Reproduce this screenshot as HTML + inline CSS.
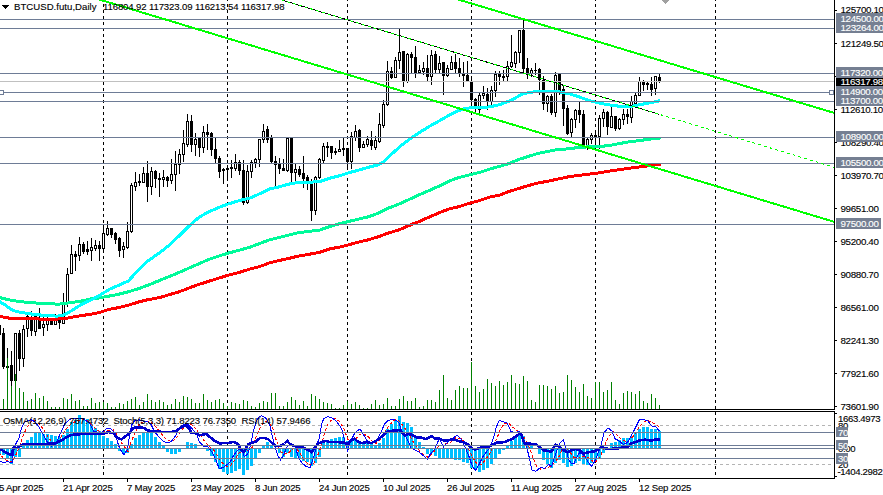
<!DOCTYPE html>
<html><head><meta charset="utf-8"><title>BTCUSD.futu,Daily</title>
<style>html,body{margin:0;padding:0;background:#fff;overflow:hidden}svg{display:block}
text{font-family:"Liberation Sans",sans-serif;white-space:pre}</style></head>
<body><svg width="883" height="495" viewBox="0 0 883 495" shape-rendering="crispEdges">
<rect x="0" y="0" width="883" height="495" fill="#fff"/>
<defs><clipPath id="cm"><rect x="0" y="0" width="834" height="409"/></clipPath><clipPath id="ci"><rect x="0" y="412" width="834" height="66"/></clipPath></defs>
<line x1="103.5" y1="0" x2="103.5" y2="409" stroke="#000" stroke-width="1" stroke-dasharray="3 3" stroke-dashoffset="2"/><line x1="103.5" y1="412" x2="103.5" y2="478" stroke="#000" stroke-width="1" stroke-dasharray="3 3" stroke-dashoffset="0"/><line x1="227.5" y1="0" x2="227.5" y2="409" stroke="#000" stroke-width="1" stroke-dasharray="3 3" stroke-dashoffset="2"/><line x1="227.5" y1="412" x2="227.5" y2="478" stroke="#000" stroke-width="1" stroke-dasharray="3 3" stroke-dashoffset="0"/><line x1="347.5" y1="0" x2="347.5" y2="409" stroke="#000" stroke-width="1" stroke-dasharray="3 3" stroke-dashoffset="2"/><line x1="347.5" y1="412" x2="347.5" y2="478" stroke="#000" stroke-width="1" stroke-dasharray="3 3" stroke-dashoffset="0"/><line x1="471.5" y1="0" x2="471.5" y2="409" stroke="#000" stroke-width="1" stroke-dasharray="3 3" stroke-dashoffset="2"/><line x1="471.5" y1="412" x2="471.5" y2="478" stroke="#000" stroke-width="1" stroke-dasharray="3 3" stroke-dashoffset="0"/><line x1="595.5" y1="0" x2="595.5" y2="409" stroke="#000" stroke-width="1" stroke-dasharray="3 3" stroke-dashoffset="2"/><line x1="595.5" y1="412" x2="595.5" y2="478" stroke="#000" stroke-width="1" stroke-dasharray="3 3" stroke-dashoffset="0"/><line x1="715.5" y1="0" x2="715.5" y2="409" stroke="#000" stroke-width="1" stroke-dasharray="3 3" stroke-dashoffset="2"/><line x1="715.5" y1="412" x2="715.5" y2="478" stroke="#000" stroke-width="1" stroke-dasharray="3 3" stroke-dashoffset="0"/>
<g clip-path="url(#cm)">
<rect x="-1" y="322" width="1" height="16" fill="#000"/><rect x="-2" y="325" width="3" height="10" fill="#000"/><rect x="3" y="328" width="1" height="41" fill="#000"/><rect x="2" y="333" width="3" height="34" fill="#000"/><rect x="7" y="348" width="1" height="25" fill="#000"/><rect x="6" y="366" width="3" height="2" fill="#000"/><rect x="11" y="351" width="1" height="38" fill="#000"/><rect x="10" y="365" width="3" height="16" fill="#000"/><rect x="15" y="333" width="1" height="49" fill="#000"/><rect x="14" y="333" width="3" height="48" fill="#000"/><rect x="15" y="334" width="1" height="46" fill="#fff"/><rect x="19" y="330" width="1" height="41" fill="#000"/><rect x="18" y="333" width="3" height="26" fill="#000"/><rect x="23" y="325" width="1" height="42" fill="#000"/><rect x="22" y="329" width="3" height="30" fill="#000"/><rect x="23" y="330" width="1" height="28" fill="#fff"/><rect x="27" y="315" width="1" height="22" fill="#000"/><rect x="26" y="316" width="3" height="13" fill="#000"/><rect x="27" y="317" width="1" height="11" fill="#fff"/><rect x="31" y="311" width="1" height="25" fill="#000"/><rect x="30" y="317" width="3" height="14" fill="#000"/><rect x="35" y="316" width="1" height="20" fill="#000"/><rect x="34" y="316" width="3" height="16" fill="#000"/><rect x="35" y="317" width="1" height="14" fill="#fff"/><rect x="39" y="308" width="1" height="21" fill="#000"/><rect x="38" y="320" width="3" height="9" fill="#000"/><rect x="43" y="317" width="1" height="19" fill="#000"/><rect x="42" y="324" width="3" height="4" fill="#000"/><rect x="43" y="325" width="1" height="2" fill="#fff"/><rect x="47" y="317" width="1" height="14" fill="#000"/><rect x="46" y="320" width="3" height="5" fill="#000"/><rect x="47" y="321" width="1" height="3" fill="#fff"/><rect x="51" y="318" width="1" height="7" fill="#000"/><rect x="50" y="320" width="3" height="5" fill="#000"/><rect x="55" y="314" width="1" height="11" fill="#000"/><rect x="54" y="320" width="3" height="5" fill="#000"/><rect x="55" y="321" width="1" height="3" fill="#fff"/><rect x="59" y="320" width="1" height="9" fill="#000"/><rect x="58" y="320" width="3" height="3" fill="#000"/><rect x="63" y="293" width="1" height="31" fill="#000"/><rect x="62" y="302" width="3" height="22" fill="#000"/><rect x="63" y="303" width="1" height="20" fill="#fff"/><rect x="67" y="268" width="1" height="39" fill="#000"/><rect x="66" y="274" width="3" height="29" fill="#000"/><rect x="67" y="275" width="1" height="27" fill="#fff"/><rect x="71" y="245" width="1" height="29" fill="#000"/><rect x="70" y="254" width="3" height="20" fill="#000"/><rect x="71" y="255" width="1" height="18" fill="#fff"/><rect x="75" y="251" width="1" height="20" fill="#000"/><rect x="74" y="254" width="3" height="3" fill="#000"/><rect x="79" y="237" width="1" height="24" fill="#000"/><rect x="78" y="244" width="3" height="12" fill="#000"/><rect x="79" y="245" width="1" height="10" fill="#fff"/><rect x="83" y="242" width="1" height="12" fill="#000"/><rect x="82" y="244" width="3" height="8" fill="#000"/><rect x="87" y="241" width="1" height="14" fill="#000"/><rect x="86" y="249" width="3" height="3" fill="#000"/><rect x="91" y="238" width="1" height="23" fill="#000"/><rect x="90" y="247" width="3" height="4" fill="#000"/><rect x="91" y="248" width="1" height="2" fill="#fff"/><rect x="95" y="240" width="1" height="11" fill="#000"/><rect x="94" y="245" width="3" height="4" fill="#000"/><rect x="95" y="246" width="1" height="2" fill="#fff"/><rect x="99" y="241" width="1" height="20" fill="#000"/><rect x="98" y="245" width="3" height="4" fill="#000"/><rect x="103" y="225" width="1" height="28" fill="#000"/><rect x="102" y="233" width="3" height="16" fill="#000"/><rect x="103" y="234" width="1" height="14" fill="#fff"/><rect x="107" y="221" width="1" height="15" fill="#000"/><rect x="106" y="228" width="3" height="7" fill="#000"/><rect x="107" y="229" width="1" height="5" fill="#fff"/><rect x="111" y="228" width="1" height="10" fill="#000"/><rect x="110" y="228" width="3" height="7" fill="#000"/><rect x="115" y="232" width="1" height="12" fill="#000"/><rect x="114" y="233" width="3" height="7" fill="#000"/><rect x="119" y="237" width="1" height="20" fill="#000"/><rect x="118" y="238" width="3" height="13" fill="#000"/><rect x="123" y="242" width="1" height="16" fill="#000"/><rect x="122" y="246" width="3" height="4" fill="#000"/><rect x="123" y="247" width="1" height="2" fill="#fff"/><rect x="127" y="222" width="1" height="27" fill="#000"/><rect x="126" y="231" width="3" height="17" fill="#000"/><rect x="127" y="232" width="1" height="15" fill="#fff"/><rect x="131" y="183" width="1" height="50" fill="#000"/><rect x="130" y="185" width="3" height="47" fill="#000"/><rect x="131" y="186" width="1" height="45" fill="#fff"/><rect x="135" y="172" width="1" height="19" fill="#000"/><rect x="134" y="182" width="3" height="5" fill="#000"/><rect x="135" y="183" width="1" height="3" fill="#fff"/><rect x="139" y="174" width="1" height="12" fill="#000"/><rect x="138" y="181" width="3" height="2" fill="#000"/><rect x="143" y="167" width="1" height="16" fill="#000"/><rect x="142" y="173" width="3" height="10" fill="#000"/><rect x="143" y="174" width="1" height="8" fill="#fff"/><rect x="147" y="161" width="1" height="41" fill="#000"/><rect x="146" y="173" width="3" height="14" fill="#000"/><rect x="151" y="167" width="1" height="28" fill="#000"/><rect x="150" y="171" width="3" height="16" fill="#000"/><rect x="151" y="172" width="1" height="14" fill="#fff"/><rect x="155" y="170" width="1" height="18" fill="#000"/><rect x="154" y="171" width="3" height="8" fill="#000"/><rect x="159" y="173" width="1" height="24" fill="#000"/><rect x="158" y="178" width="3" height="2" fill="#000"/><rect x="163" y="170" width="1" height="17" fill="#000"/><rect x="162" y="177" width="3" height="3" fill="#000"/><rect x="163" y="178" width="1" height="1" fill="#fff"/><rect x="167" y="176" width="1" height="11" fill="#000"/><rect x="166" y="177" width="3" height="4" fill="#000"/><rect x="171" y="159" width="1" height="25" fill="#000"/><rect x="170" y="174" width="3" height="7" fill="#000"/><rect x="171" y="175" width="1" height="5" fill="#fff"/><rect x="175" y="151" width="1" height="40" fill="#000"/><rect x="174" y="164" width="3" height="11" fill="#000"/><rect x="175" y="165" width="1" height="9" fill="#fff"/><rect x="179" y="149" width="1" height="25" fill="#000"/><rect x="178" y="154" width="3" height="11" fill="#000"/><rect x="179" y="155" width="1" height="9" fill="#fff"/><rect x="183" y="130" width="1" height="32" fill="#000"/><rect x="182" y="143" width="3" height="12" fill="#000"/><rect x="183" y="144" width="1" height="10" fill="#fff"/><rect x="187" y="114" width="1" height="33" fill="#000"/><rect x="186" y="121" width="3" height="24" fill="#000"/><rect x="187" y="122" width="1" height="22" fill="#fff"/><rect x="191" y="115" width="1" height="37" fill="#000"/><rect x="190" y="121" width="3" height="24" fill="#000"/><rect x="195" y="133" width="1" height="23" fill="#000"/><rect x="194" y="139" width="3" height="6" fill="#000"/><rect x="195" y="140" width="1" height="4" fill="#fff"/><rect x="199" y="138" width="1" height="19" fill="#000"/><rect x="198" y="138" width="3" height="10" fill="#000"/><rect x="203" y="126" width="1" height="27" fill="#000"/><rect x="202" y="132" width="3" height="16" fill="#000"/><rect x="203" y="133" width="1" height="14" fill="#fff"/><rect x="207" y="124" width="1" height="26" fill="#000"/><rect x="206" y="132" width="3" height="3" fill="#000"/><rect x="211" y="132" width="1" height="24" fill="#000"/><rect x="210" y="133" width="3" height="17" fill="#000"/><rect x="215" y="138" width="1" height="25" fill="#000"/><rect x="214" y="149" width="3" height="10" fill="#000"/><rect x="219" y="156" width="1" height="22" fill="#000"/><rect x="218" y="158" width="3" height="14" fill="#000"/><rect x="223" y="168" width="1" height="16" fill="#000"/><rect x="222" y="169" width="3" height="2" fill="#000"/><rect x="227" y="165" width="1" height="16" fill="#000"/><rect x="226" y="168" width="3" height="2" fill="#000"/><rect x="231" y="160" width="1" height="18" fill="#000"/><rect x="230" y="167" width="3" height="2" fill="#000"/><rect x="235" y="154" width="1" height="17" fill="#000"/><rect x="234" y="162" width="3" height="7" fill="#000"/><rect x="235" y="163" width="1" height="5" fill="#fff"/><rect x="239" y="160" width="1" height="15" fill="#000"/><rect x="238" y="162" width="3" height="9" fill="#000"/><rect x="243" y="160" width="1" height="45" fill="#000"/><rect x="242" y="170" width="3" height="33" fill="#000"/><rect x="247" y="165" width="1" height="39" fill="#000"/><rect x="246" y="171" width="3" height="32" fill="#000"/><rect x="247" y="172" width="1" height="30" fill="#fff"/><rect x="251" y="160" width="1" height="18" fill="#000"/><rect x="250" y="162" width="3" height="10" fill="#000"/><rect x="251" y="163" width="1" height="8" fill="#fff"/><rect x="255" y="158" width="1" height="10" fill="#000"/><rect x="254" y="159" width="3" height="4" fill="#000"/><rect x="255" y="160" width="1" height="2" fill="#fff"/><rect x="259" y="139" width="1" height="28" fill="#000"/><rect x="258" y="139" width="3" height="21" fill="#000"/><rect x="259" y="140" width="1" height="19" fill="#fff"/><rect x="263" y="124" width="1" height="19" fill="#000"/><rect x="262" y="131" width="3" height="9" fill="#000"/><rect x="263" y="132" width="1" height="7" fill="#fff"/><rect x="267" y="126" width="1" height="17" fill="#000"/><rect x="266" y="129" width="3" height="11" fill="#000"/><rect x="271" y="135" width="1" height="28" fill="#000"/><rect x="270" y="138" width="3" height="24" fill="#000"/><rect x="275" y="156" width="1" height="31" fill="#000"/><rect x="274" y="161" width="3" height="4" fill="#000"/><rect x="279" y="158" width="1" height="16" fill="#000"/><rect x="278" y="164" width="3" height="5" fill="#000"/><rect x="283" y="159" width="1" height="12" fill="#000"/><rect x="282" y="168" width="3" height="3" fill="#000"/><rect x="287" y="138" width="1" height="34" fill="#000"/><rect x="286" y="138" width="3" height="33" fill="#000"/><rect x="287" y="139" width="1" height="31" fill="#fff"/><rect x="291" y="138" width="1" height="44" fill="#000"/><rect x="290" y="138" width="3" height="35" fill="#000"/><rect x="295" y="164" width="1" height="17" fill="#000"/><rect x="294" y="169" width="3" height="4" fill="#000"/><rect x="295" y="170" width="1" height="2" fill="#fff"/><rect x="299" y="166" width="1" height="11" fill="#000"/><rect x="298" y="169" width="3" height="6" fill="#000"/><rect x="303" y="156" width="1" height="32" fill="#000"/><rect x="302" y="173" width="3" height="6" fill="#000"/><rect x="307" y="175" width="1" height="15" fill="#000"/><rect x="306" y="177" width="3" height="5" fill="#000"/><rect x="311" y="179" width="1" height="42" fill="#000"/><rect x="310" y="182" width="3" height="29" fill="#000"/><rect x="315" y="176" width="1" height="39" fill="#000"/><rect x="314" y="177" width="3" height="34" fill="#000"/><rect x="315" y="178" width="1" height="32" fill="#fff"/><rect x="319" y="158" width="1" height="21" fill="#000"/><rect x="318" y="159" width="3" height="19" fill="#000"/><rect x="319" y="160" width="1" height="17" fill="#fff"/><rect x="323" y="143" width="1" height="21" fill="#000"/><rect x="322" y="146" width="3" height="15" fill="#000"/><rect x="323" y="147" width="1" height="13" fill="#fff"/><rect x="327" y="142" width="1" height="15" fill="#000"/><rect x="326" y="146" width="3" height="2" fill="#000"/><rect x="331" y="146" width="1" height="13" fill="#000"/><rect x="330" y="146" width="3" height="7" fill="#000"/><rect x="335" y="148" width="1" height="7" fill="#000"/><rect x="334" y="151" width="3" height="2" fill="#000"/><rect x="339" y="140" width="1" height="12" fill="#000"/><rect x="338" y="149" width="3" height="3" fill="#000"/><rect x="339" y="150" width="1" height="1" fill="#fff"/><rect x="343" y="138" width="1" height="18" fill="#000"/><rect x="342" y="148" width="3" height="2" fill="#000"/><rect x="347" y="148" width="1" height="22" fill="#000"/><rect x="346" y="148" width="3" height="14" fill="#000"/><rect x="351" y="132" width="1" height="37" fill="#000"/><rect x="350" y="136" width="3" height="26" fill="#000"/><rect x="351" y="137" width="1" height="24" fill="#fff"/><rect x="355" y="125" width="1" height="16" fill="#000"/><rect x="354" y="131" width="3" height="7" fill="#000"/><rect x="355" y="132" width="1" height="5" fill="#fff"/><rect x="359" y="129" width="1" height="23" fill="#000"/><rect x="358" y="130" width="3" height="18" fill="#000"/><rect x="363" y="141" width="1" height="7" fill="#000"/><rect x="362" y="144" width="3" height="4" fill="#000"/><rect x="363" y="145" width="1" height="2" fill="#fff"/><rect x="367" y="136" width="1" height="11" fill="#000"/><rect x="366" y="139" width="3" height="6" fill="#000"/><rect x="367" y="140" width="1" height="4" fill="#fff"/><rect x="371" y="131" width="1" height="19" fill="#000"/><rect x="370" y="140" width="3" height="6" fill="#000"/><rect x="375" y="136" width="1" height="14" fill="#000"/><rect x="374" y="140" width="3" height="8" fill="#000"/><rect x="375" y="141" width="1" height="6" fill="#fff"/><rect x="379" y="113" width="1" height="30" fill="#000"/><rect x="378" y="124" width="3" height="18" fill="#000"/><rect x="379" y="125" width="1" height="16" fill="#fff"/><rect x="383" y="100" width="1" height="28" fill="#000"/><rect x="382" y="104" width="3" height="22" fill="#000"/><rect x="383" y="105" width="1" height="20" fill="#fff"/><rect x="387" y="61" width="1" height="45" fill="#000"/><rect x="386" y="71" width="3" height="34" fill="#000"/><rect x="387" y="72" width="1" height="32" fill="#fff"/><rect x="391" y="67" width="1" height="12" fill="#000"/><rect x="390" y="71" width="3" height="7" fill="#000"/><rect x="395" y="57" width="1" height="21" fill="#000"/><rect x="394" y="60" width="3" height="18" fill="#000"/><rect x="395" y="61" width="1" height="16" fill="#fff"/><rect x="399" y="29" width="1" height="40" fill="#000"/><rect x="398" y="52" width="3" height="9" fill="#000"/><rect x="399" y="53" width="1" height="7" fill="#fff"/><rect x="403" y="51" width="1" height="36" fill="#000"/><rect x="402" y="51" width="3" height="31" fill="#000"/><rect x="407" y="53" width="1" height="30" fill="#000"/><rect x="406" y="54" width="3" height="28" fill="#000"/><rect x="407" y="55" width="1" height="26" fill="#fff"/><rect x="411" y="52" width="1" height="22" fill="#000"/><rect x="410" y="54" width="3" height="4" fill="#000"/><rect x="415" y="46" width="1" height="32" fill="#000"/><rect x="414" y="57" width="3" height="17" fill="#000"/><rect x="419" y="65" width="1" height="8" fill="#000"/><rect x="418" y="70" width="3" height="3" fill="#000"/><rect x="419" y="71" width="1" height="1" fill="#fff"/><rect x="423" y="62" width="1" height="13" fill="#000"/><rect x="422" y="68" width="3" height="4" fill="#000"/><rect x="423" y="69" width="1" height="2" fill="#fff"/><rect x="427" y="55" width="1" height="26" fill="#000"/><rect x="426" y="68" width="3" height="9" fill="#000"/><rect x="431" y="50" width="1" height="35" fill="#000"/><rect x="430" y="55" width="3" height="22" fill="#000"/><rect x="431" y="56" width="1" height="20" fill="#fff"/><rect x="435" y="51" width="1" height="22" fill="#000"/><rect x="434" y="54" width="3" height="16" fill="#000"/><rect x="439" y="56" width="1" height="17" fill="#000"/><rect x="438" y="63" width="3" height="7" fill="#000"/><rect x="439" y="64" width="1" height="5" fill="#fff"/><rect x="443" y="62" width="1" height="33" fill="#000"/><rect x="442" y="62" width="3" height="14" fill="#000"/><rect x="447" y="65" width="1" height="12" fill="#000"/><rect x="446" y="68" width="3" height="8" fill="#000"/><rect x="447" y="69" width="1" height="6" fill="#fff"/><rect x="451" y="56" width="1" height="14" fill="#000"/><rect x="450" y="62" width="3" height="8" fill="#000"/><rect x="451" y="63" width="1" height="6" fill="#fff"/><rect x="455" y="54" width="1" height="19" fill="#000"/><rect x="454" y="62" width="3" height="7" fill="#000"/><rect x="459" y="58" width="1" height="19" fill="#000"/><rect x="458" y="68" width="3" height="6" fill="#000"/><rect x="463" y="62" width="1" height="25" fill="#000"/><rect x="462" y="73" width="3" height="3" fill="#000"/><rect x="467" y="61" width="1" height="21" fill="#000"/><rect x="466" y="75" width="3" height="7" fill="#000"/><rect x="471" y="76" width="1" height="33" fill="#000"/><rect x="470" y="81" width="3" height="19" fill="#000"/><rect x="475" y="98" width="1" height="15" fill="#000"/><rect x="474" y="99" width="3" height="10" fill="#000"/><rect x="479" y="93" width="1" height="21" fill="#000"/><rect x="478" y="95" width="3" height="15" fill="#000"/><rect x="479" y="96" width="1" height="13" fill="#fff"/><rect x="483" y="86" width="1" height="13" fill="#000"/><rect x="482" y="93" width="3" height="3" fill="#000"/><rect x="483" y="94" width="1" height="1" fill="#fff"/><rect x="487" y="88" width="1" height="22" fill="#000"/><rect x="486" y="94" width="3" height="8" fill="#000"/><rect x="491" y="86" width="1" height="20" fill="#000"/><rect x="490" y="90" width="3" height="12" fill="#000"/><rect x="491" y="91" width="1" height="10" fill="#fff"/><rect x="495" y="71" width="1" height="26" fill="#000"/><rect x="494" y="74" width="3" height="17" fill="#000"/><rect x="495" y="75" width="1" height="15" fill="#fff"/><rect x="499" y="71" width="1" height="14" fill="#000"/><rect x="498" y="74" width="3" height="3" fill="#000"/><rect x="503" y="70" width="1" height="12" fill="#000"/><rect x="502" y="76" width="3" height="2" fill="#000"/><rect x="507" y="61" width="1" height="21" fill="#000"/><rect x="506" y="66" width="3" height="11" fill="#000"/><rect x="507" y="67" width="1" height="9" fill="#fff"/><rect x="511" y="35" width="1" height="33" fill="#000"/><rect x="510" y="62" width="3" height="5" fill="#000"/><rect x="511" y="63" width="1" height="3" fill="#fff"/><rect x="515" y="51" width="1" height="17" fill="#000"/><rect x="514" y="52" width="3" height="12" fill="#000"/><rect x="515" y="53" width="1" height="10" fill="#fff"/><rect x="519" y="30" width="1" height="33" fill="#000"/><rect x="518" y="30" width="3" height="23" fill="#000"/><rect x="519" y="31" width="1" height="21" fill="#fff"/><rect x="523" y="19" width="1" height="55" fill="#000"/><rect x="522" y="30" width="3" height="39" fill="#000"/><rect x="527" y="58" width="1" height="21" fill="#000"/><rect x="526" y="68" width="3" height="6" fill="#000"/><rect x="531" y="68" width="1" height="9" fill="#000"/><rect x="530" y="70" width="3" height="4" fill="#000"/><rect x="531" y="71" width="1" height="2" fill="#fff"/><rect x="535" y="63" width="1" height="12" fill="#000"/><rect x="534" y="70" width="3" height="1" fill="#000"/><rect x="539" y="68" width="1" height="27" fill="#000"/><rect x="538" y="69" width="3" height="11" fill="#000"/><rect x="543" y="76" width="1" height="34" fill="#000"/><rect x="542" y="80" width="3" height="24" fill="#000"/><rect x="547" y="95" width="1" height="17" fill="#000"/><rect x="546" y="96" width="3" height="8" fill="#000"/><rect x="547" y="97" width="1" height="6" fill="#fff"/><rect x="551" y="94" width="1" height="21" fill="#000"/><rect x="550" y="96" width="3" height="17" fill="#000"/><rect x="555" y="72" width="1" height="45" fill="#000"/><rect x="554" y="75" width="3" height="38" fill="#000"/><rect x="555" y="76" width="1" height="36" fill="#fff"/><rect x="559" y="74" width="1" height="21" fill="#000"/><rect x="558" y="74" width="3" height="17" fill="#000"/><rect x="563" y="86" width="1" height="40" fill="#000"/><rect x="562" y="89" width="3" height="20" fill="#000"/><rect x="567" y="105" width="1" height="30" fill="#000"/><rect x="566" y="108" width="3" height="26" fill="#000"/><rect x="571" y="118" width="1" height="20" fill="#000"/><rect x="570" y="119" width="3" height="14" fill="#000"/><rect x="571" y="120" width="1" height="12" fill="#fff"/><rect x="575" y="109" width="1" height="19" fill="#000"/><rect x="574" y="110" width="3" height="10" fill="#000"/><rect x="575" y="111" width="1" height="8" fill="#fff"/><rect x="579" y="102" width="1" height="21" fill="#000"/><rect x="578" y="110" width="3" height="5" fill="#000"/><rect x="583" y="110" width="1" height="36" fill="#000"/><rect x="582" y="114" width="3" height="32" fill="#000"/><rect x="587" y="138" width="1" height="12" fill="#000"/><rect x="586" y="139" width="3" height="8" fill="#000"/><rect x="587" y="140" width="1" height="6" fill="#fff"/><rect x="591" y="133" width="1" height="11" fill="#000"/><rect x="590" y="135" width="3" height="5" fill="#000"/><rect x="591" y="136" width="1" height="3" fill="#fff"/><rect x="595" y="131" width="1" height="16" fill="#000"/><rect x="594" y="135" width="3" height="2" fill="#000"/><rect x="599" y="115" width="1" height="34" fill="#000"/><rect x="598" y="118" width="3" height="19" fill="#000"/><rect x="599" y="119" width="1" height="17" fill="#fff"/><rect x="603" y="109" width="1" height="18" fill="#000"/><rect x="602" y="112" width="3" height="7" fill="#000"/><rect x="603" y="113" width="1" height="5" fill="#fff"/><rect x="607" y="111" width="1" height="24" fill="#000"/><rect x="606" y="112" width="3" height="15" fill="#000"/><rect x="611" y="107" width="1" height="21" fill="#000"/><rect x="610" y="116" width="3" height="12" fill="#000"/><rect x="611" y="117" width="1" height="10" fill="#fff"/><rect x="615" y="116" width="1" height="15" fill="#000"/><rect x="614" y="116" width="3" height="13" fill="#000"/><rect x="619" y="118" width="1" height="12" fill="#000"/><rect x="618" y="119" width="3" height="10" fill="#000"/><rect x="619" y="120" width="1" height="8" fill="#fff"/><rect x="623" y="109" width="1" height="16" fill="#000"/><rect x="622" y="114" width="3" height="6" fill="#000"/><rect x="623" y="115" width="1" height="4" fill="#fff"/><rect x="627" y="109" width="1" height="15" fill="#000"/><rect x="626" y="114" width="3" height="3" fill="#000"/><rect x="631" y="96" width="1" height="27" fill="#000"/><rect x="630" y="101" width="3" height="17" fill="#000"/><rect x="631" y="102" width="1" height="15" fill="#fff"/><rect x="635" y="93" width="1" height="12" fill="#000"/><rect x="634" y="95" width="3" height="9" fill="#000"/><rect x="635" y="96" width="1" height="7" fill="#fff"/><rect x="639" y="77" width="1" height="19" fill="#000"/><rect x="638" y="81" width="3" height="15" fill="#000"/><rect x="639" y="82" width="1" height="13" fill="#fff"/><rect x="643" y="80" width="1" height="11" fill="#000"/><rect x="642" y="81" width="3" height="4" fill="#000"/><rect x="647" y="82" width="1" height="8" fill="#000"/><rect x="646" y="83" width="3" height="2" fill="#000"/><rect x="651" y="77" width="1" height="19" fill="#000"/><rect x="650" y="84" width="3" height="6" fill="#000"/><rect x="655" y="76" width="1" height="19" fill="#000"/><rect x="654" y="76" width="3" height="13" fill="#000"/><rect x="655" y="77" width="1" height="11" fill="#fff"/><rect x="659" y="74" width="1" height="9" fill="#000"/><rect x="658" y="77" width="3" height="5" fill="#000"/>
<rect x="3" y="399" width="1" height="10" fill="#008000"/><rect x="7" y="358" width="1" height="51" fill="#008000"/><rect x="11" y="386" width="1" height="23" fill="#008000"/><rect x="15" y="374" width="1" height="35" fill="#008000"/><rect x="19" y="388" width="1" height="21" fill="#008000"/><rect x="23" y="392" width="1" height="17" fill="#008000"/><rect x="27" y="401" width="1" height="8" fill="#008000"/><rect x="31" y="399" width="1" height="10" fill="#008000"/><rect x="35" y="393" width="1" height="16" fill="#008000"/><rect x="39" y="398" width="1" height="11" fill="#008000"/><rect x="43" y="396" width="1" height="13" fill="#008000"/><rect x="47" y="401" width="1" height="8" fill="#008000"/><rect x="51" y="407" width="1" height="2" fill="#008000"/><rect x="55" y="407" width="1" height="2" fill="#008000"/><rect x="59" y="407" width="1" height="2" fill="#008000"/><rect x="63" y="398" width="1" height="11" fill="#008000"/><rect x="67" y="399" width="1" height="10" fill="#008000"/><rect x="71" y="394" width="1" height="15" fill="#008000"/><rect x="75" y="401" width="1" height="8" fill="#008000"/><rect x="79" y="400" width="1" height="9" fill="#008000"/><rect x="83" y="406" width="1" height="3" fill="#008000"/><rect x="87" y="406" width="1" height="3" fill="#008000"/><rect x="91" y="398" width="1" height="11" fill="#008000"/><rect x="95" y="403" width="1" height="6" fill="#008000"/><rect x="99" y="402" width="1" height="7" fill="#008000"/><rect x="103" y="402" width="1" height="7" fill="#008000"/><rect x="107" y="403" width="1" height="6" fill="#008000"/><rect x="111" y="407" width="1" height="2" fill="#008000"/><rect x="115" y="407" width="1" height="2" fill="#008000"/><rect x="119" y="403" width="1" height="6" fill="#008000"/><rect x="123" y="404" width="1" height="5" fill="#008000"/><rect x="127" y="401" width="1" height="8" fill="#008000"/><rect x="131" y="399" width="1" height="10" fill="#008000"/><rect x="135" y="397" width="1" height="12" fill="#008000"/><rect x="139" y="405" width="1" height="4" fill="#008000"/><rect x="143" y="402" width="1" height="7" fill="#008000"/><rect x="147" y="394" width="1" height="15" fill="#008000"/><rect x="151" y="400" width="1" height="9" fill="#008000"/><rect x="155" y="402" width="1" height="7" fill="#008000"/><rect x="159" y="400" width="1" height="9" fill="#008000"/><rect x="163" y="402" width="1" height="7" fill="#008000"/><rect x="167" y="405" width="1" height="4" fill="#008000"/><rect x="171" y="404" width="1" height="5" fill="#008000"/><rect x="175" y="399" width="1" height="10" fill="#008000"/><rect x="179" y="402" width="1" height="7" fill="#008000"/><rect x="183" y="396" width="1" height="13" fill="#008000"/><rect x="187" y="397" width="1" height="12" fill="#008000"/><rect x="191" y="399" width="1" height="10" fill="#008000"/><rect x="195" y="403" width="1" height="6" fill="#008000"/><rect x="199" y="403" width="1" height="6" fill="#008000"/><rect x="203" y="394" width="1" height="15" fill="#008000"/><rect x="207" y="400" width="1" height="9" fill="#008000"/><rect x="211" y="402" width="1" height="7" fill="#008000"/><rect x="215" y="400" width="1" height="9" fill="#008000"/><rect x="219" y="399" width="1" height="10" fill="#008000"/><rect x="223" y="403" width="1" height="6" fill="#008000"/><rect x="227" y="406" width="1" height="3" fill="#008000"/><rect x="231" y="402" width="1" height="7" fill="#008000"/><rect x="235" y="403" width="1" height="6" fill="#008000"/><rect x="239" y="404" width="1" height="5" fill="#008000"/><rect x="243" y="400" width="1" height="9" fill="#008000"/><rect x="247" y="401" width="1" height="8" fill="#008000"/><rect x="251" y="406" width="1" height="3" fill="#008000"/><rect x="255" y="407" width="1" height="2" fill="#008000"/><rect x="259" y="403" width="1" height="6" fill="#008000"/><rect x="263" y="401" width="1" height="8" fill="#008000"/><rect x="267" y="402" width="1" height="7" fill="#008000"/><rect x="271" y="393" width="1" height="16" fill="#008000"/><rect x="275" y="393" width="1" height="16" fill="#008000"/><rect x="279" y="406" width="1" height="3" fill="#008000"/><rect x="283" y="406" width="1" height="3" fill="#008000"/><rect x="287" y="402" width="1" height="7" fill="#008000"/><rect x="291" y="397" width="1" height="12" fill="#008000"/><rect x="295" y="400" width="1" height="9" fill="#008000"/><rect x="299" y="405" width="1" height="4" fill="#008000"/><rect x="303" y="401" width="1" height="8" fill="#008000"/><rect x="307" y="406" width="1" height="3" fill="#008000"/><rect x="311" y="394" width="1" height="15" fill="#008000"/><rect x="315" y="396" width="1" height="13" fill="#008000"/><rect x="319" y="399" width="1" height="10" fill="#008000"/><rect x="323" y="402" width="1" height="7" fill="#008000"/><rect x="327" y="403" width="1" height="6" fill="#008000"/><rect x="331" y="404" width="1" height="5" fill="#008000"/><rect x="335" y="408" width="1" height="1" fill="#008000"/><rect x="339" y="408" width="1" height="1" fill="#008000"/><rect x="343" y="405" width="1" height="4" fill="#008000"/><rect x="347" y="401" width="1" height="8" fill="#008000"/><rect x="351" y="404" width="1" height="5" fill="#008000"/><rect x="355" y="402" width="1" height="7" fill="#008000"/><rect x="359" y="405" width="1" height="4" fill="#008000"/><rect x="363" y="408" width="1" height="1" fill="#008000"/><rect x="367" y="408" width="1" height="1" fill="#008000"/><rect x="371" y="404" width="1" height="5" fill="#008000"/><rect x="375" y="400" width="1" height="9" fill="#008000"/><rect x="379" y="405" width="1" height="4" fill="#008000"/><rect x="383" y="404" width="1" height="5" fill="#008000"/><rect x="387" y="398" width="1" height="11" fill="#008000"/><rect x="391" y="406" width="1" height="3" fill="#008000"/><rect x="395" y="406" width="1" height="3" fill="#008000"/><rect x="399" y="399" width="1" height="10" fill="#008000"/><rect x="403" y="396" width="1" height="13" fill="#008000"/><rect x="407" y="401" width="1" height="8" fill="#008000"/><rect x="411" y="401" width="1" height="8" fill="#008000"/><rect x="415" y="398" width="1" height="11" fill="#008000"/><rect x="419" y="407" width="1" height="2" fill="#008000"/><rect x="423" y="406" width="1" height="3" fill="#008000"/><rect x="427" y="400" width="1" height="9" fill="#008000"/><rect x="431" y="400" width="1" height="9" fill="#008000"/><rect x="435" y="402" width="1" height="7" fill="#008000"/><rect x="439" y="390" width="1" height="19" fill="#008000"/><rect x="443" y="375" width="1" height="34" fill="#008000"/><rect x="447" y="398" width="1" height="11" fill="#008000"/><rect x="451" y="400" width="1" height="9" fill="#008000"/><rect x="455" y="390" width="1" height="19" fill="#008000"/><rect x="459" y="386" width="1" height="23" fill="#008000"/><rect x="463" y="388" width="1" height="21" fill="#008000"/><rect x="467" y="388" width="1" height="21" fill="#008000"/><rect x="471" y="362" width="1" height="47" fill="#008000"/><rect x="475" y="386" width="1" height="23" fill="#008000"/><rect x="479" y="392" width="1" height="17" fill="#008000"/><rect x="483" y="389" width="1" height="20" fill="#008000"/><rect x="487" y="379" width="1" height="30" fill="#008000"/><rect x="491" y="383" width="1" height="26" fill="#008000"/><rect x="495" y="386" width="1" height="23" fill="#008000"/><rect x="499" y="381" width="1" height="28" fill="#008000"/><rect x="503" y="385" width="1" height="24" fill="#008000"/><rect x="507" y="382" width="1" height="27" fill="#008000"/><rect x="511" y="375" width="1" height="34" fill="#008000"/><rect x="515" y="383" width="1" height="26" fill="#008000"/><rect x="519" y="384" width="1" height="25" fill="#008000"/><rect x="523" y="376" width="1" height="33" fill="#008000"/><rect x="527" y="381" width="1" height="28" fill="#008000"/><rect x="531" y="400" width="1" height="9" fill="#008000"/><rect x="535" y="402" width="1" height="7" fill="#008000"/><rect x="539" y="385" width="1" height="24" fill="#008000"/><rect x="543" y="385" width="1" height="24" fill="#008000"/><rect x="547" y="386" width="1" height="23" fill="#008000"/><rect x="551" y="389" width="1" height="20" fill="#008000"/><rect x="555" y="386" width="1" height="23" fill="#008000"/><rect x="559" y="393" width="1" height="16" fill="#008000"/><rect x="563" y="392" width="1" height="17" fill="#008000"/><rect x="567" y="375" width="1" height="34" fill="#008000"/><rect x="571" y="380" width="1" height="29" fill="#008000"/><rect x="575" y="387" width="1" height="22" fill="#008000"/><rect x="579" y="392" width="1" height="17" fill="#008000"/><rect x="583" y="384" width="1" height="25" fill="#008000"/><rect x="587" y="396" width="1" height="13" fill="#008000"/><rect x="591" y="398" width="1" height="11" fill="#008000"/><rect x="595" y="382" width="1" height="27" fill="#008000"/><rect x="599" y="382" width="1" height="27" fill="#008000"/><rect x="603" y="392" width="1" height="17" fill="#008000"/><rect x="607" y="390" width="1" height="19" fill="#008000"/><rect x="611" y="382" width="1" height="27" fill="#008000"/><rect x="615" y="400" width="1" height="9" fill="#008000"/><rect x="619" y="404" width="1" height="5" fill="#008000"/><rect x="623" y="393" width="1" height="16" fill="#008000"/><rect x="627" y="391" width="1" height="18" fill="#008000"/><rect x="631" y="392" width="1" height="17" fill="#008000"/><rect x="635" y="394" width="1" height="15" fill="#008000"/><rect x="639" y="391" width="1" height="18" fill="#008000"/><rect x="643" y="401" width="1" height="8" fill="#008000"/><rect x="647" y="403" width="1" height="6" fill="#008000"/><rect x="651" y="394" width="1" height="15" fill="#008000"/><rect x="655" y="398" width="1" height="11" fill="#008000"/><rect x="659" y="405" width="1" height="4" fill="#008000"/>
<polyline points="-2.0,316.2 0.0,316.4 9.7,318.2 19.4,318.5 38.8,319.0 58.2,319.0 67.9,318.0 74.2,316.8 92.0,314.0 100.0,312.4 109.1,309.4 118.8,307.6 128.5,305.2 138.2,302.1 147.9,299.7 160.0,297.5 169.7,294.5 179.4,291.7 189.1,288.0 198.8,284.4 208.5,281.4 218.2,278.3 227.9,275.3 240.0,272.2 249.7,269.1 259.4,266.7 269.1,263.0 278.8,260.6 288.5,258.5 298.2,256.1 307.9,254.5 320.0,252.2 329.7,248.9 339.4,247.1 349.1,244.7 358.8,242.0 368.5,239.8 378.2,236.8 387.9,233.2 400.0,229.5 413.3,223.8 419.4,221.4 429.1,217.1 438.8,212.9 448.5,209.2 458.2,206.8 467.9,203.8 480.0,200.4 489.7,197.0 499.4,195.2 509.1,191.5 518.8,188.5 528.5,185.5 538.2,183.0 547.9,181.2 560.0,178.6 569.7,176.5 579.4,175.3 589.1,174.1 598.8,172.9 608.5,171.3 618.2,169.8 627.9,168.4 637.6,167.2 647.3,166.0 660.5,164.2" fill="none" stroke="#ff0000" stroke-width="3" stroke-linejoin="round"/>
<polyline points="-2.0,297.2 0.0,297.6 9.7,300.0 19.4,301.6 29.0,302.4 38.8,303.3 48.5,303.6 58.2,304.2 67.9,303.0 80.0,301.4 89.7,299.1 99.4,297.9 109.1,296.1 118.8,294.2 128.5,291.8 138.2,288.8 147.9,285.2 160.0,280.3 169.7,276.3 179.4,272.3 189.1,268.0 198.8,263.8 208.5,259.5 218.2,256.2 227.9,253.2 240.0,250.0 249.7,247.3 259.4,243.6 269.1,240.0 278.8,237.6 288.5,235.2 298.2,232.7 307.9,231.5 320.0,230.0 329.7,226.5 339.4,223.8 349.1,221.4 358.8,219.0 368.5,216.8 378.2,213.2 387.9,208.3 400.0,203.7 409.7,199.2 419.4,194.7 429.1,190.5 438.8,186.2 448.5,181.4 458.2,177.7 467.9,175.3 480.0,172.3 489.7,169.1 499.4,166.4 509.1,163.6 518.8,159.4 528.5,156.4 538.2,153.3 547.9,151.5 555.2,149.9 560.0,149.8 569.7,148.6 579.4,147.4 589.1,146.8 598.8,146.6 608.5,145.6 618.2,143.8 627.9,142.0 637.6,140.8 647.3,139.5 660.5,137.9" fill="none" stroke="#00fa9a" stroke-width="3" stroke-linejoin="round"/>
<polyline points="-2.0,300.5 0.0,301.8 4.8,304.8 9.7,308.5 14.5,310.9 19.4,312.1 29.0,313.7 38.8,314.9 48.5,315.5 56.0,316.1 62.0,315.8 65.1,314.2 71.2,310.9 77.2,307.0 83.3,303.6 92.0,299.6 99.4,295.5 109.1,289.4 118.8,285.2 128.5,280.9 138.2,270.0 147.9,260.9 160.0,252.5 169.7,244.7 179.4,235.6 189.1,225.9 198.8,217.4 208.5,212.0 218.2,207.7 227.9,204.1 240.0,200.3 249.7,198.2 259.4,193.9 269.1,189.1 278.8,186.9 288.5,184.2 298.2,182.4 307.9,182.4 320.0,181.5 329.7,178.2 339.4,175.8 349.1,172.7 358.8,170.1 368.5,167.3 378.2,164.8 383.0,162.4 387.9,157.6 395.2,150.9 400.0,146.3 409.7,139.2 419.4,132.6 429.1,126.5 438.8,121.1 448.5,115.6 458.2,110.8 465.5,108.3 472.7,107.7 480.0,107.8 489.7,106.8 499.4,104.7 509.1,101.1 516.4,97.4 521.2,94.4 528.5,92.6 538.2,91.4 547.9,91.4 560.0,92.0 569.7,93.9 579.4,97.0 589.1,100.6 598.8,103.0 608.5,104.8 618.2,106.1 625.5,106.9 632.7,106.1 642.4,104.2 652.1,102.4 660.5,100.6" fill="none" stroke="#00ffff" stroke-width="3" stroke-linejoin="round"/>
<rect x="0" y="19" width="834" height="1" fill="#6e7c96"/>
<rect x="0" y="28" width="834" height="1" fill="#6e7c96"/>
<rect x="0" y="73" width="834" height="1" fill="#6e7c96"/>
<rect x="0" y="92" width="834" height="1" fill="#6e7c96"/>
<rect x="0" y="101" width="834" height="1" fill="#6e7c96"/>
<rect x="0" y="137" width="834" height="1" fill="#6e7c96"/>
<rect x="0" y="163" width="834" height="1" fill="#6e7c96"/>
<rect x="0" y="224" width="834" height="1" fill="#6e7c96"/>
<rect x="0" y="81" width="834" height="1" fill="#c0c0c0"/>
<rect x="-0.5" y="90.5" width="4" height="4" fill="#fff" stroke="#6e7c96" stroke-width="1"/>
<rect x="829.5" y="90.5" width="4" height="4" fill="#fff" stroke="#6e7c96" stroke-width="1"/>
<line x1="440.0" y1="-6.02" x2="834" y2="112.89" stroke="#00ff00" stroke-width="2"/>
<line x1="90.0" y1="-3.33" x2="834" y2="221.80" stroke="#00ff00" stroke-width="2"/>
<line x1="270" y1="-3.56" x2="659" y2="114.23" stroke="#000" stroke-width="1"/>
<line x1="270" y1="-3.56" x2="834" y2="167.22" stroke="#00ff00" stroke-width="1" stroke-dasharray="3 3"/>
<polygon points="662,0 669,0 665.5,3.7" fill="#a0a0a0"/>
</g>
<g clip-path="url(#ci)">
<line x1="0" y1="425.5" x2="834" y2="425.5" stroke="#b4b4b4" stroke-width="1" stroke-dasharray="3 3"/>
<line x1="0" y1="464.5" x2="834" y2="464.5" stroke="#b4b4b4" stroke-width="1" stroke-dasharray="3 3"/>
<rect x="-2" y="448" width="3" height="6" fill="#00bfff"/><rect x="2" y="448" width="3" height="7" fill="#00bfff"/><rect x="6" y="448" width="3" height="10" fill="#00bfff"/><rect x="10" y="448" width="3" height="16" fill="#00bfff"/><rect x="14" y="448" width="3" height="9" fill="#00bfff"/><rect x="18" y="448" width="3" height="9" fill="#00bfff"/><rect x="22" y="446" width="3" height="2" fill="#00bfff"/><rect x="26" y="440" width="3" height="8" fill="#00bfff"/><rect x="30" y="437" width="3" height="11" fill="#00bfff"/><rect x="34" y="433" width="3" height="15" fill="#00bfff"/><rect x="38" y="433" width="3" height="15" fill="#00bfff"/><rect x="42" y="434" width="3" height="14" fill="#00bfff"/><rect x="46" y="434" width="3" height="14" fill="#00bfff"/><rect x="50" y="435" width="3" height="13" fill="#00bfff"/><rect x="54" y="436" width="3" height="12" fill="#00bfff"/><rect x="58" y="437" width="3" height="11" fill="#00bfff"/><rect x="62" y="435" width="3" height="13" fill="#00bfff"/><rect x="66" y="429" width="3" height="19" fill="#00bfff"/><rect x="70" y="422" width="3" height="26" fill="#00bfff"/><rect x="74" y="420" width="3" height="28" fill="#00bfff"/><rect x="78" y="415" width="3" height="33" fill="#00bfff"/><rect x="82" y="418" width="3" height="30" fill="#00bfff"/><rect x="86" y="419" width="3" height="29" fill="#00bfff"/><rect x="90" y="424" width="3" height="24" fill="#00bfff"/><rect x="94" y="428" width="3" height="20" fill="#00bfff"/><rect x="98" y="431" width="3" height="17" fill="#00bfff"/><rect x="102" y="436" width="3" height="12" fill="#00bfff"/><rect x="106" y="438" width="3" height="10" fill="#00bfff"/><rect x="110" y="441" width="3" height="7" fill="#00bfff"/><rect x="114" y="444" width="3" height="4" fill="#00bfff"/><rect x="118" y="448" width="3" height="3" fill="#00bfff"/><rect x="122" y="448" width="3" height="6" fill="#00bfff"/><rect x="126" y="448" width="3" height="5" fill="#00bfff"/><rect x="130" y="444" width="3" height="4" fill="#00bfff"/><rect x="134" y="438" width="3" height="10" fill="#00bfff"/><rect x="138" y="435" width="3" height="13" fill="#00bfff"/><rect x="142" y="433" width="3" height="15" fill="#00bfff"/><rect x="146" y="433" width="3" height="15" fill="#00bfff"/><rect x="150" y="433" width="3" height="15" fill="#00bfff"/><rect x="154" y="437" width="3" height="11" fill="#00bfff"/><rect x="158" y="442" width="3" height="6" fill="#00bfff"/><rect x="162" y="446" width="3" height="2" fill="#00bfff"/><rect x="166" y="448" width="3" height="4" fill="#00bfff"/><rect x="170" y="448" width="3" height="6" fill="#00bfff"/><rect x="174" y="448" width="3" height="6" fill="#00bfff"/><rect x="178" y="448" width="3" height="4" fill="#00bfff"/><rect x="186" y="442" width="3" height="6" fill="#00bfff"/><rect x="190" y="443" width="3" height="5" fill="#00bfff"/><rect x="194" y="444" width="3" height="4" fill="#00bfff"/><rect x="206" y="448" width="3" height="3" fill="#00bfff"/><rect x="210" y="448" width="3" height="8" fill="#00bfff"/><rect x="214" y="448" width="3" height="14" fill="#00bfff"/><rect x="218" y="448" width="3" height="21" fill="#00bfff"/><rect x="222" y="448" width="3" height="24" fill="#00bfff"/><rect x="226" y="448" width="3" height="26" fill="#00bfff"/><rect x="230" y="448" width="3" height="25" fill="#00bfff"/><rect x="234" y="448" width="3" height="23" fill="#00bfff"/><rect x="238" y="448" width="3" height="21" fill="#00bfff"/><rect x="242" y="448" width="3" height="27" fill="#00bfff"/><rect x="246" y="448" width="3" height="22" fill="#00bfff"/><rect x="250" y="448" width="3" height="18" fill="#00bfff"/><rect x="254" y="448" width="3" height="11" fill="#00bfff"/><rect x="258" y="448" width="3" height="5" fill="#00bfff"/><rect x="262" y="446" width="3" height="2" fill="#00bfff"/><rect x="266" y="442" width="3" height="6" fill="#00bfff"/><rect x="270" y="446" width="3" height="2" fill="#00bfff"/><rect x="278" y="448" width="3" height="5" fill="#00bfff"/><rect x="282" y="448" width="3" height="9" fill="#00bfff"/><rect x="286" y="448" width="3" height="5" fill="#00bfff"/><rect x="290" y="448" width="3" height="9" fill="#00bfff"/><rect x="294" y="448" width="3" height="10" fill="#00bfff"/><rect x="298" y="448" width="3" height="11" fill="#00bfff"/><rect x="302" y="448" width="3" height="13" fill="#00bfff"/><rect x="306" y="448" width="3" height="14" fill="#00bfff"/><rect x="310" y="448" width="3" height="18" fill="#00bfff"/><rect x="314" y="448" width="3" height="15" fill="#00bfff"/><rect x="318" y="448" width="3" height="9" fill="#00bfff"/><rect x="322" y="443" width="3" height="5" fill="#00bfff"/><rect x="326" y="442" width="3" height="6" fill="#00bfff"/><rect x="330" y="439" width="3" height="9" fill="#00bfff"/><rect x="334" y="438" width="3" height="10" fill="#00bfff"/><rect x="338" y="437" width="3" height="11" fill="#00bfff"/><rect x="342" y="437" width="3" height="11" fill="#00bfff"/><rect x="346" y="441" width="3" height="7" fill="#00bfff"/><rect x="350" y="441" width="3" height="7" fill="#00bfff"/><rect x="354" y="440" width="3" height="8" fill="#00bfff"/><rect x="358" y="441" width="3" height="7" fill="#00bfff"/><rect x="362" y="442" width="3" height="6" fill="#00bfff"/><rect x="366" y="443" width="3" height="5" fill="#00bfff"/><rect x="370" y="443" width="3" height="5" fill="#00bfff"/><rect x="374" y="445" width="3" height="3" fill="#00bfff"/><rect x="378" y="443" width="3" height="5" fill="#00bfff"/><rect x="382" y="438" width="3" height="10" fill="#00bfff"/><rect x="386" y="429" width="3" height="19" fill="#00bfff"/><rect x="390" y="424" width="3" height="24" fill="#00bfff"/><rect x="394" y="420" width="3" height="28" fill="#00bfff"/><rect x="398" y="416" width="3" height="32" fill="#00bfff"/><rect x="402" y="422" width="3" height="26" fill="#00bfff"/><rect x="406" y="423" width="3" height="25" fill="#00bfff"/><rect x="410" y="427" width="3" height="21" fill="#00bfff"/><rect x="414" y="436" width="3" height="12" fill="#00bfff"/><rect x="418" y="442" width="3" height="6" fill="#00bfff"/><rect x="422" y="447" width="3" height="1" fill="#00bfff"/><rect x="426" y="448" width="3" height="6" fill="#00bfff"/><rect x="430" y="448" width="3" height="5" fill="#00bfff"/><rect x="434" y="448" width="3" height="8" fill="#00bfff"/><rect x="438" y="448" width="3" height="10" fill="#00bfff"/><rect x="442" y="448" width="3" height="11" fill="#00bfff"/><rect x="446" y="448" width="3" height="11" fill="#00bfff"/><rect x="450" y="448" width="3" height="11" fill="#00bfff"/><rect x="454" y="448" width="3" height="12" fill="#00bfff"/><rect x="458" y="448" width="3" height="12" fill="#00bfff"/><rect x="462" y="448" width="3" height="14" fill="#00bfff"/><rect x="466" y="448" width="3" height="15" fill="#00bfff"/><rect x="470" y="448" width="3" height="20" fill="#00bfff"/><rect x="474" y="448" width="3" height="22" fill="#00bfff"/><rect x="478" y="448" width="3" height="24" fill="#00bfff"/><rect x="482" y="448" width="3" height="22" fill="#00bfff"/><rect x="486" y="448" width="3" height="20" fill="#00bfff"/><rect x="490" y="448" width="3" height="16" fill="#00bfff"/><rect x="494" y="448" width="3" height="10" fill="#00bfff"/><rect x="498" y="448" width="3" height="6" fill="#00bfff"/><rect x="502" y="448" width="3" height="2" fill="#00bfff"/><rect x="506" y="446" width="3" height="2" fill="#00bfff"/><rect x="510" y="441" width="3" height="7" fill="#00bfff"/><rect x="514" y="438" width="3" height="10" fill="#00bfff"/><rect x="518" y="435" width="3" height="13" fill="#00bfff"/><rect x="522" y="436" width="3" height="12" fill="#00bfff"/><rect x="526" y="442" width="3" height="6" fill="#00bfff"/><rect x="530" y="446" width="3" height="2" fill="#00bfff"/><rect x="538" y="448" width="3" height="6" fill="#00bfff"/><rect x="542" y="448" width="3" height="12" fill="#00bfff"/><rect x="546" y="448" width="3" height="16" fill="#00bfff"/><rect x="550" y="448" width="3" height="20" fill="#00bfff"/><rect x="554" y="448" width="3" height="15" fill="#00bfff"/><rect x="558" y="448" width="3" height="12" fill="#00bfff"/><rect x="562" y="448" width="3" height="15" fill="#00bfff"/><rect x="566" y="448" width="3" height="19" fill="#00bfff"/><rect x="570" y="448" width="3" height="18" fill="#00bfff"/><rect x="574" y="448" width="3" height="15" fill="#00bfff"/><rect x="578" y="448" width="3" height="13" fill="#00bfff"/><rect x="582" y="448" width="3" height="16" fill="#00bfff"/><rect x="586" y="448" width="3" height="17" fill="#00bfff"/><rect x="590" y="448" width="3" height="15" fill="#00bfff"/><rect x="594" y="448" width="3" height="13" fill="#00bfff"/><rect x="598" y="448" width="3" height="11" fill="#00bfff"/><rect x="602" y="448" width="3" height="5" fill="#00bfff"/><rect x="610" y="443" width="3" height="5" fill="#00bfff"/><rect x="614" y="442" width="3" height="6" fill="#00bfff"/><rect x="618" y="440" width="3" height="8" fill="#00bfff"/><rect x="622" y="438" width="3" height="10" fill="#00bfff"/><rect x="626" y="438" width="3" height="10" fill="#00bfff"/><rect x="630" y="436" width="3" height="12" fill="#00bfff"/><rect x="634" y="432" width="3" height="16" fill="#00bfff"/><rect x="638" y="429" width="3" height="19" fill="#00bfff"/><rect x="642" y="427" width="3" height="21" fill="#00bfff"/><rect x="646" y="427" width="3" height="21" fill="#00bfff"/><rect x="650" y="429" width="3" height="19" fill="#00bfff"/><rect x="654" y="429" width="3" height="19" fill="#00bfff"/><rect x="658" y="431" width="3" height="17" fill="#00bfff"/>
<polyline points="-2.0,453.0 0.0,454.3 4.0,459.0 8.1,461.0 11.5,462.4 14.9,457.0 18.9,448.2 23.0,436.0 27.0,427.2 31.1,421.8 35.2,420.5 39.2,423.9 43.3,429.3 47.4,436.0 51.4,441.4 55.5,443.5 59.5,440.1 63.6,432.7 66.0,429.0 71.5,423.2 78.2,420.5 85.0,419.1 91.8,424.5 97.2,430.6 102.6,432.0 108.0,430.6 113.4,430.0 117.5,435.4 121.5,442.8 125.6,448.2 128.0,451.6 130.8,442.8 134.8,433.3 138.9,424.5 144.3,421.1 149.7,421.1 153.8,424.5 157.8,429.3 163.2,436.0 167.3,440.1 171.4,441.4 175.4,439.4 179.5,434.0 183.5,427.9 187.6,424.5 191.4,424.5 196.8,430.0 203.6,440.1 209.0,446.2 214.4,450.9 218.5,457.7 222.5,463.1 226.6,466.5 230.7,465.1 234.7,460.4 238.8,453.0 242.8,451.6 246.9,451.6 252.0,447.5 256.1,436.7 260.2,427.2 264.2,421.8 268.3,421.8 272.4,427.2 276.4,440.8 280.5,451.6 284.5,454.3 288.6,453.0 292.7,448.9 296.7,448.9 300.8,454.3 304.8,461.1 308.9,464.5 312.7,465.1 316.8,457.7 320.8,447.5 323.5,436.7 327.6,424.5 331.7,419.8 335.7,418.4 339.8,421.8 343.8,428.6 347.9,439.4 351.9,440.1 356.0,438.7 360.1,434.0 364.1,434.0 368.2,436.7 372.2,441.4 376.1,443.5 380.1,439.4 384.2,433.3 389.6,424.5 395.0,419.8 399.0,421.1 403.1,425.9 407.2,431.3 411.2,438.7 415.3,444.8 419.4,450.9 423.4,454.3 427.5,457.0 431.5,454.3 435.6,449.6 438.1,446.9 442.1,444.8 446.2,443.5 450.2,442.8 455.7,438.0 461.1,438.7 465.1,442.1 469.2,450.2 473.2,458.4 477.3,464.5 481.4,464.5 485.4,459.7 489.5,454.3 493.5,446.2 497.6,436.7 500.1,430.0 504.1,423.9 508.2,422.5 512.2,426.6 516.3,430.0 520.4,432.0 524.4,438.0 528.5,445.5 532.5,456.3 536.6,466.5 540.7,469.2 544.7,468.5 548.8,467.2 552.8,464.5 556.9,459.7 560.0,455.0 562.1,448.9 566.1,447.5 570.2,452.3 574.2,457.7 578.3,458.4 582.4,456.3 586.4,456.3 590.5,459.7 594.5,462.4 598.6,459.7 602.7,450.9 606.7,440.8 609.4,435.4 613.5,431.3 617.5,435.4 621.7,440.0 625.8,441.4 629.9,439.4 635.3,434.0 639.4,426.6 643.4,422.5 647.5,419.8 651.5,422.5 655.6,423.9 659.7,427.9" fill="none" stroke="#ff0000" stroke-width="1" stroke-dasharray="3 2"/>
<polyline points="-2.0,460.0 0.0,461.0 3.4,463.0 6.8,461.7 12.2,462.4 13.5,451.6 16.0,443.5 19.0,438.0 21.7,427.2 24.4,422.5 27.7,420.5 31.0,419.8 35.0,421.8 39.0,427.2 43.3,434.7 47.4,442.1 51.4,446.5 55.5,444.2 59.5,435.4 62.0,430.0 64.7,423.9 70.0,419.1 75.5,418.4 82.3,418.4 89.0,422.5 93.8,431.3 97.2,432.0 102.6,432.0 106.7,428.6 110.7,428.6 114.8,432.7 118.8,446.2 121.5,451.6 124.0,454.6 127.4,449.6 130.0,432.0 132.0,424.5 134.8,420.5 138.9,419.8 143.0,421.1 147.0,421.1 151.0,424.5 154.4,431.3 159.2,437.4 163.2,441.4 167.3,442.8 171.4,441.4 175.4,436.0 179.5,428.6 183.5,424.5 187.0,423.5 191.4,427.9 196.8,434.0 199.5,442.1 203.6,446.2 207.7,446.9 211.7,451.6 215.8,459.7 219.2,468.5 222.5,467.8 226.6,465.1 230.7,461.1 233.4,455.7 237.4,450.2 241.5,448.2 244.2,456.3 247.6,454.3 250.7,444.8 253.4,431.3 256.1,421.8 258.8,417.1 261.5,415.7 265.6,417.8 269.7,424.5 272.4,436.7 275.0,446.2 277.8,455.7 280.5,459.7 283.2,455.7 287.2,446.2 291.3,445.5 295.4,446.9 298.7,458.4 302.1,463.1 306.2,466.5 310.2,467.8 314.0,455.7 316.8,444.8 319.5,437.4 321.5,424.5 323.5,419.1 327.6,416.4 331.7,417.8 335.7,420.5 339.8,425.9 342.5,431.3 345.2,443.5 347.6,450.9 350.6,440.8 354.7,433.3 357.4,430.6 360.1,429.3 362.8,433.3 366.8,440.1 370.9,443.2 376.0,441.0 377.4,439.4 381.5,431.3 384.2,424.5 388.2,420.5 392.3,419.4 396.4,420.2 399.0,423.2 401.8,431.3 405.8,436.7 408.5,442.1 411.2,448.2 415.3,450.2 419.4,452.3 423.4,455.7 427.5,459.0 430.2,454.3 434.2,449.6 439.4,438.7 443.5,446.9 447.5,442.1 453.0,438.0 457.0,435.4 461.0,438.7 465.1,446.9 469.2,457.0 471.9,465.1 475.3,470.5 478.7,465.1 482.7,457.0 486.8,451.6 490.8,445.5 493.5,438.0 496.2,427.2 499.4,420.5 502.8,421.8 506.8,422.5 510.9,431.3 515.0,432.7 519.0,431.3 523.0,438.7 527.1,448.9 529.8,459.7 531.9,469.9 535.9,471.2 540.7,467.2 544.7,468.5 548.8,464.5 551.5,466.5 555.5,454.3 559.6,443.5 563.4,439.4 565.4,447.5 568.8,459.7 571.5,463.8 574.2,463.1 577.0,457.0 579.7,452.3 582.4,454.3 585.1,456.3 587.8,461.7 591.8,466.5 595.9,459.0 598.6,451.6 601.3,444.2 604.0,432.7 608.1,427.9 612.1,431.3 615.0,438.7 619.0,440.8 623.1,444.2 627.2,442.8 631.2,436.0 635.3,427.9 639.4,419.8 643.4,419.8 647.5,420.5 651.5,425.9 655.6,426.6 659.7,431.3" fill="none" stroke="#0000ff" stroke-width="1"/>
<polyline points="-2.0,448.5 0.0,448.9 4.0,451.6 8.0,453.6 11.5,455.0 13.5,447.5 17.0,448.2 20.0,446.0 24.0,444.2 34.0,443.9 44.7,443.9 54.0,443.5 59.5,441.4 62.0,440.0 66.0,437.5 70.0,435.4 75.5,434.3 89.0,434.0 102.6,434.0 108.0,432.0 113.4,433.3 117.5,438.0 121.5,439.4 124.0,437.4 129.4,433.3 133.5,427.9 137.5,427.2 144.3,427.9 147.7,430.6 153.8,431.3 163.2,432.0 171.4,432.0 176.8,430.6 182.2,426.6 186.2,425.5 188.7,427.9 191.4,432.7 195.5,433.3 199.5,435.4 202.2,434.7 206.3,434.0 210.4,437.4 214.4,440.8 219.8,443.5 225.2,442.8 229.3,442.8 233.4,441.9 237.4,443.5 241.5,450.2 244.2,451.6 248.2,444.2 252.0,442.8 256.0,441.4 260.2,438.0 264.2,437.8 268.3,439.4 272.4,443.5 275.7,445.9 280.5,445.9 284.5,443.5 287.2,440.8 290.0,444.2 294.0,445.9 302.1,446.9 307.5,449.6 311.6,452.3 315.4,446.9 318.1,443.5 322.2,441.9 326.2,441.0 330.3,442.1 337.0,442.1 343.8,442.4 347.2,444.2 350.6,440.8 354.7,438.7 357.4,441.4 361.4,443.2 366.8,442.1 370.9,443.2 376.0,441.0 381.5,436.7 385.5,432.7 389.6,431.0 395.0,430.6 399.0,430.0 401.8,432.0 404.5,435.4 408.5,434.0 412.6,435.1 416.7,437.4 422.0,437.8 426.1,439.1 431.5,436.4 435.6,438.7 439.4,438.7 443.5,440.5 447.5,440.1 453.0,439.4 458.4,441.0 463.8,442.4 467.8,444.2 471.9,448.2 474.6,449.6 478.7,448.2 482.7,446.9 488.1,446.9 492.2,444.8 496.2,442.8 500.0,442.4 504.1,442.1 509.5,440.1 513.6,438.0 517.7,435.1 519.7,433.3 521.7,435.4 524.4,443.5 529.8,443.7 535.2,444.2 539.3,446.5 543.4,450.2 547.4,450.9 551.5,451.6 555.5,444.8 559.6,446.5 563.4,450.2 567.5,452.3 571.5,450.2 575.6,448.9 579.7,450.2 583.7,453.6 587.8,452.3 593.2,451.6 597.2,450.2 601.3,447.3 605.4,448.2 609.4,449.2 614.8,448.5 619.0,448.2 623.1,447.3 628.5,446.5 631.2,443.5 635.3,442.1 639.4,440.5 644.8,439.7 648.8,440.1 651.5,440.8 655.6,439.1 659.7,439.7" fill="none" stroke="#0000cd" stroke-width="2.6" stroke-linejoin="round"/>
<rect x="0" y="432" width="834" height="1" fill="#6e7c96"/>
<rect x="0" y="445" width="834" height="1" fill="#6e7c96"/>
<rect x="0" y="448" width="834" height="1" fill="#6e7c96"/>
<rect x="0" y="458" width="834" height="1" fill="#6e7c96"/>
</g>
<rect x="834" y="0" width="1" height="410" fill="#000"/>
<rect x="0" y="409" width="835" height="1" fill="#000"/>
<rect x="0" y="411" width="835" height="1" fill="#000"/>
<rect x="0" y="478" width="835" height="1" fill="#000"/>
<rect x="834" y="411" width="1" height="68" fill="#000"/>
<rect x="835" y="10" width="2" height="1" fill="#000"/>
<rect x="835" y="43" width="2" height="1" fill="#000"/>
<rect x="835" y="76" width="2" height="1" fill="#000"/>
<rect x="835" y="109" width="2" height="1" fill="#000"/>
<rect x="835" y="142" width="2" height="1" fill="#000"/>
<rect x="835" y="175" width="2" height="1" fill="#000"/>
<rect x="835" y="208" width="2" height="1" fill="#000"/>
<rect x="835" y="241" width="2" height="1" fill="#000"/>
<rect x="835" y="274" width="2" height="1" fill="#000"/>
<rect x="835" y="307" width="2" height="1" fill="#000"/>
<rect x="835" y="340" width="2" height="1" fill="#000"/>
<rect x="835" y="373" width="2" height="1" fill="#000"/>
<rect x="835" y="406" width="2" height="1" fill="#000"/>
<rect x="835" y="413" width="2" height="1" fill="#000"/>
<rect x="835" y="476" width="2" height="1" fill="#000"/>
<rect x="-1" y="479" width="1" height="3" fill="#000"/>
<rect x="63" y="479" width="1" height="3" fill="#000"/>
<rect x="127" y="479" width="1" height="3" fill="#000"/>
<rect x="191" y="479" width="1" height="3" fill="#000"/>
<rect x="255" y="479" width="1" height="3" fill="#000"/>
<rect x="319" y="479" width="1" height="3" fill="#000"/>
<rect x="383" y="479" width="1" height="3" fill="#000"/>
<rect x="447" y="479" width="1" height="3" fill="#000"/>
<rect x="511" y="479" width="1" height="3" fill="#000"/>
<rect x="575" y="479" width="1" height="3" fill="#000"/>
<rect x="639" y="479" width="1" height="3" fill="#000"/>
<g font-family='"Liberation Sans", sans-serif' shape-rendering="auto" stroke-width="0.12"><text x="840.5" y="13" fill="#000" stroke="#000" font-size="9.8"  letter-spacing="-0.35">125700.10</text><text x="840.5" y="47" fill="#000" stroke="#000" font-size="9.8"  letter-spacing="-0.35">121249.50</text><text x="840.5" y="80" fill="#000" stroke="#000" font-size="9.8"  letter-spacing="-0.35">116929.80</text><text x="840.5" y="113" fill="#000" stroke="#000" font-size="9.8"  letter-spacing="-0.35">112610.10</text><text x="840.5" y="146" fill="#000" stroke="#000" font-size="9.8"  letter-spacing="-0.35">108290.40</text><text x="840.5" y="179" fill="#000" stroke="#000" font-size="9.8"  letter-spacing="-0.35">103970.70</text><text x="840.5" y="212" fill="#000" stroke="#000" font-size="9.8"  letter-spacing="-0.35">99651.00</text><text x="840.5" y="245" fill="#000" stroke="#000" font-size="9.8"  letter-spacing="-0.35">95200.40</text><text x="840.5" y="278" fill="#000" stroke="#000" font-size="9.8"  letter-spacing="-0.35">90880.70</text><text x="840.5" y="311" fill="#000" stroke="#000" font-size="9.8"  letter-spacing="-0.35">86561.00</text><text x="840.5" y="344" fill="#000" stroke="#000" font-size="9.8"  letter-spacing="-0.35">82241.30</text><text x="840.5" y="377" fill="#000" stroke="#000" font-size="9.8"  letter-spacing="-0.35">77921.60</text><text x="840.5" y="410" fill="#000" stroke="#000" font-size="9.8"  letter-spacing="-0.35">73601.90</text><text x="838" y="422" fill="#000" stroke="#000" font-size="9.6"  letter-spacing="-0.35">1663.4973</text><text x="838" y="429" fill="#000" stroke="#000" font-size="9.6"  letter-spacing="-0.35">80</text><text x="838" y="452" fill="#000" stroke="#000" font-size="9.6"  letter-spacing="-0.35">0.00</text><text x="838" y="468" fill="#000" stroke="#000" font-size="9.6"  letter-spacing="-0.35">20</text><text x="837.5" y="475" fill="#000" stroke="#000" font-size="9.6"  letter-spacing="-0.35">-1404.2982</text></g>
<rect x="836" y="13" width="47" height="11" fill="#757f92"/><rect x="836" y="22" width="47" height="11" fill="#757f92"/><rect x="836" y="67" width="47" height="11" fill="#757f92"/><rect x="836" y="86" width="47" height="11" fill="#757f92"/><rect x="836" y="95" width="47" height="11" fill="#757f92"/><rect x="836" y="131" width="47" height="11" fill="#757f92"/><rect x="836" y="157" width="47" height="11" fill="#757f92"/><rect x="836" y="218" width="45" height="11" fill="#757f92"/><rect x="836" y="78" width="47" height="8" fill="#000"/>
<rect x="836" y="427" width="12" height="10" fill="#757f92"/><rect x="836" y="440" width="12" height="10" fill="#757f92"/><rect x="836" y="453" width="12" height="11" fill="#757f92"/>
<polygon points="2,5 9,5 5.5,9" fill="#000"/>
<g font-family='"Liberation Sans", sans-serif' shape-rendering="auto" stroke-width="0.12"><text x="840.5" y="22" fill="#fff" stroke="#fff" font-size="9.8"  letter-spacing="-0.35">124500.00</text><text x="840.5" y="31" fill="#fff" stroke="#fff" font-size="9.8"  letter-spacing="-0.35">123264.00</text><text x="840.5" y="76" fill="#fff" stroke="#fff" font-size="9.8"  letter-spacing="-0.35">117320.00</text><text x="840.5" y="95" fill="#fff" stroke="#fff" font-size="9.8"  letter-spacing="-0.35">114900.00</text><text x="840.5" y="104" fill="#fff" stroke="#fff" font-size="9.8"  letter-spacing="-0.35">113700.00</text><text x="840.5" y="140" fill="#fff" stroke="#fff" font-size="9.8"  letter-spacing="-0.35">108900.00</text><text x="840.5" y="166" fill="#fff" stroke="#fff" font-size="9.8"  letter-spacing="-0.35">105500.00</text><text x="840.5" y="227" fill="#fff" stroke="#fff" font-size="9.8"  letter-spacing="-0.35">97500.00</text><text x="840.5" y="85" fill="#fff" stroke="#fff" font-size="9.8"  letter-spacing="-0.35">116317.98</text><text x="838" y="436" fill="#fff" stroke="#fff" font-size="9.6"  letter-spacing="-0.35">70</text><text x="838" y="449" fill="#fff" stroke="#fff" font-size="9.6"  letter-spacing="-0.35">50</text><text x="838" y="462" fill="#fff" stroke="#fff" font-size="9.6"  letter-spacing="-0.35">30</text><text x="-1" y="490.5" fill="#000" stroke="#000" font-size="9.6"  letter-spacing="-0.2">5 Apr 2025</text><text x="63" y="490.5" fill="#000" stroke="#000" font-size="9.6"  letter-spacing="-0.2">21 Apr 2025</text><text x="127" y="490.5" fill="#000" stroke="#000" font-size="9.6"  letter-spacing="-0.2">7 May 2025</text><text x="191" y="490.5" fill="#000" stroke="#000" font-size="9.6"  letter-spacing="-0.2">23 May 2025</text><text x="255" y="490.5" fill="#000" stroke="#000" font-size="9.6"  letter-spacing="-0.2">8 Jun 2025</text><text x="319" y="490.5" fill="#000" stroke="#000" font-size="9.6"  letter-spacing="-0.2">24 Jun 2025</text><text x="383" y="490.5" fill="#000" stroke="#000" font-size="9.6"  letter-spacing="-0.2">10 Jul 2025</text><text x="447" y="490.5" fill="#000" stroke="#000" font-size="9.6"  letter-spacing="-0.2">26 Jul 2025</text><text x="511" y="490.5" fill="#000" stroke="#000" font-size="9.6"  letter-spacing="-0.2">11 Aug 2025</text><text x="575" y="490.5" fill="#000" stroke="#000" font-size="9.6"  letter-spacing="-0.2">27 Aug 2025</text><text x="639" y="490.5" fill="#000" stroke="#000" font-size="9.6"  letter-spacing="-0.2">12 Sep 2025</text><text x="14" y="10" fill="#000" stroke="#000" font-size="9.6"  textLength="82.5" lengthAdjust="spacing">BTCUSD.futu,Daily</text><text x="103" y="10" fill="#000" stroke="#000" font-size="9.6"  textLength="181.5" lengthAdjust="spacing">116804.92 117323.09 116213.54 116317.98</text><text x="3" y="424" fill="#000" stroke="#000" font-size="9.6"  textLength="105.5" lengthAdjust="spacing">OsMA(12,26,9) 767.4732</text><text x="113.5" y="424" fill="#000" stroke="#000" font-size="9.6"  textLength="122.7" lengthAdjust="spacing">Stoch(5,3,3) 71.8223 76.7350</text><text x="241.5" y="424" fill="#000" stroke="#000" font-size="9.6"  textLength="69" lengthAdjust="spacing">RSI(14) 57.9466</text></g>
</svg></body></html>
